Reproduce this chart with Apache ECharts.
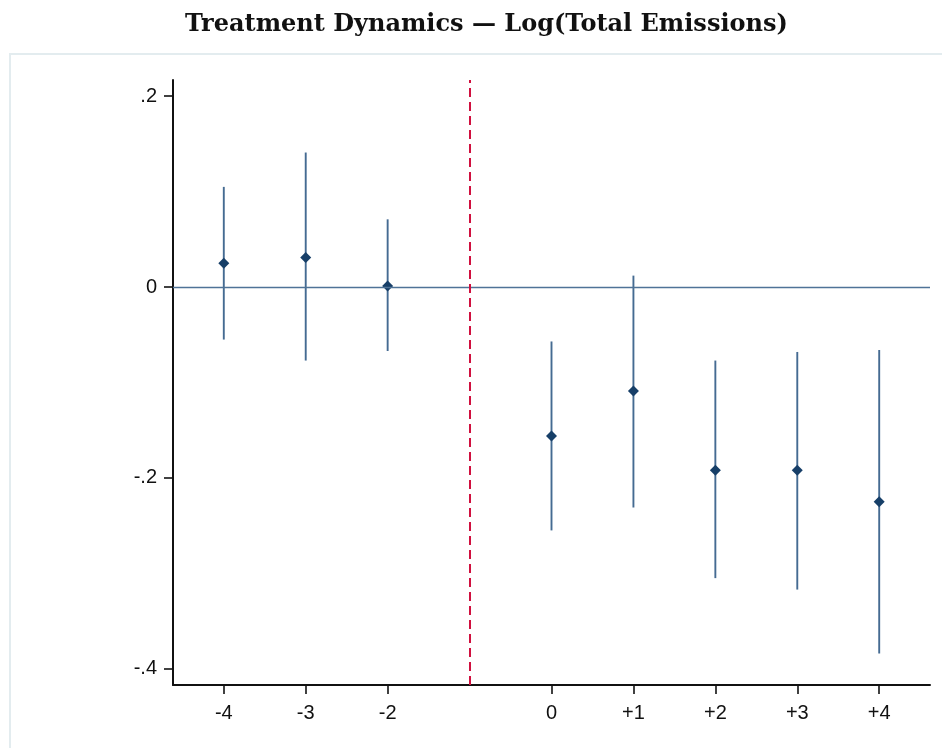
<!DOCTYPE html>
<html>
<head>
<meta charset="utf-8">
<script src="https://cdn.jsdelivr.net/npm/echarts@6/dist/echarts.min.js"></script>
<style>
  html, body { margin: 0; padding: 0; background: #fff; }
  #chart { width: 942px; height: 748px; }
</style>
</head>
<body>
<div id="chart"></div>
<script>
// event time (relative period) and estimates
var periods = [-4, -3, -2, 0, 1, 2, 3, 4];
var estimates = [0.025, 0.031, 0.001, -0.156, -0.109, -0.192, -0.192, -0.225];
var ciLow = [-0.055, -0.077, -0.067, -0.255, -0.231, -0.305, -0.317, -0.384];
var ciHigh = [0.105, 0.141, 0.071, -0.057, 0.012, -0.077, -0.068, -0.066];

var xTickValues = [-4, -3, -2, 0, 1, 2, 3, 4];
var xTickLabels = ['-4', '-3', '-2', '0', '+1', '+2', '+3', '+4'];
var yTickValues = [-0.4, -0.2, 0, 0.2];
var yTickLabels = ['-.4', '-.2', '0', '.2'];
var treatLine = -1;

var chart = echarts.init(document.getElementById('chart'));

var pointData = [];
var barData = [];
for (var i = 0; i < periods.length; i++) {
  pointData.push([periods[i], estimates[i]]);
  barData.push([periods[i], ciLow[i], ciHigh[i]]);
}

function labelFor(vals, labels) {
  return function (v) {
    for (var k = 0; k < vals.length; k++) {
      if (Math.abs(vals[k] - v) < 1e-9) return labels[k];
    }
    return '';
  };
}

var option = {
  backgroundColor: '#fff',
  animation: false,
  title: {
    text: 'Treatment Dynamics \u2014 Log(Total Emissions)',
    left: 180,
    top: 8,
    textStyle: {
      fontFamily: 'DejaVu Serif',
      fontWeight: 'bold',
      fontSize: 24,
      color: '#111'
    }
  },
  graphic: [{
    type: 'rect',
    shape: { x: 10, y: 54, width: 940, height: 700 },
    style: { fill: '#fff', stroke: '#e3ecef', lineWidth: 2 },
    silent: true,
    z: -10
  }],
  grid: { left: 173, top: 80, right: 12, bottom: 63 },
  xAxis: {
    type: 'value',
    min: -4.62,
    max: 4.62,
    splitLine: { show: false },
    axisLine: { onZero: false, lineStyle: { color: '#111', width: 2 } },
    axisTick: { customValues: xTickValues, length: 9, lineStyle: { color: '#111', width: 1.6 } },
    axisLabel: {
      customValues: xTickValues,
      formatter: labelFor(xTickValues, xTickLabels),
      margin: 18,
      fontFamily: 'Liberation Sans',
      fontSize: 20,
      color: '#111'
    }
  },
  yAxis: {
    type: 'value',
    min: -0.417,
    max: 0.217,
    splitLine: { show: false },
    axisLine: { show: true, onZero: false, lineStyle: { color: '#111', width: 2 } },
    axisTick: { show: true, customValues: yTickValues, length: 9, lineStyle: { color: '#111', width: 1.6 } },
    axisLabel: {
      customValues: yTickValues,
      formatter: labelFor(yTickValues, yTickLabels),
      margin: 16,
      fontFamily: 'Liberation Sans',
      fontSize: 20,
      color: '#111'
    }
  },
  series: [
    {
      type: 'custom',
      data: barData,
      renderItem: function (params, api) {
        var p1 = api.coord([api.value(0), api.value(1)]);
        var p2 = api.coord([api.value(0), api.value(2)]);
        return {
          type: 'line',
          shape: { x1: p1[0], y1: p1[1], x2: p2[0], y2: p2[1] },
          style: { stroke: '#456b92', lineWidth: 1.9 }
        };
      },
      z: 3
    },
    {
      type: 'scatter',
      data: pointData,
      symbol: 'diamond',
      symbolSize: 11,
      itemStyle: { color: '#173f68', opacity: 1 },
      z: 4,
      markLine: {
        silent: true,
        symbol: 'none',
        label: { show: false },
        data: [
          { yAxis: 0, lineStyle: { color: '#4f7397', width: 1.4, type: 'solid', opacity: 1 } },
          { xAxis: treatLine, lineStyle: { color: '#d0103f', width: 2, type: [9, 5], opacity: 1 } }
        ]
      }
    }
  ]
};

chart.setOption(option);
</script>
</body>
</html>
